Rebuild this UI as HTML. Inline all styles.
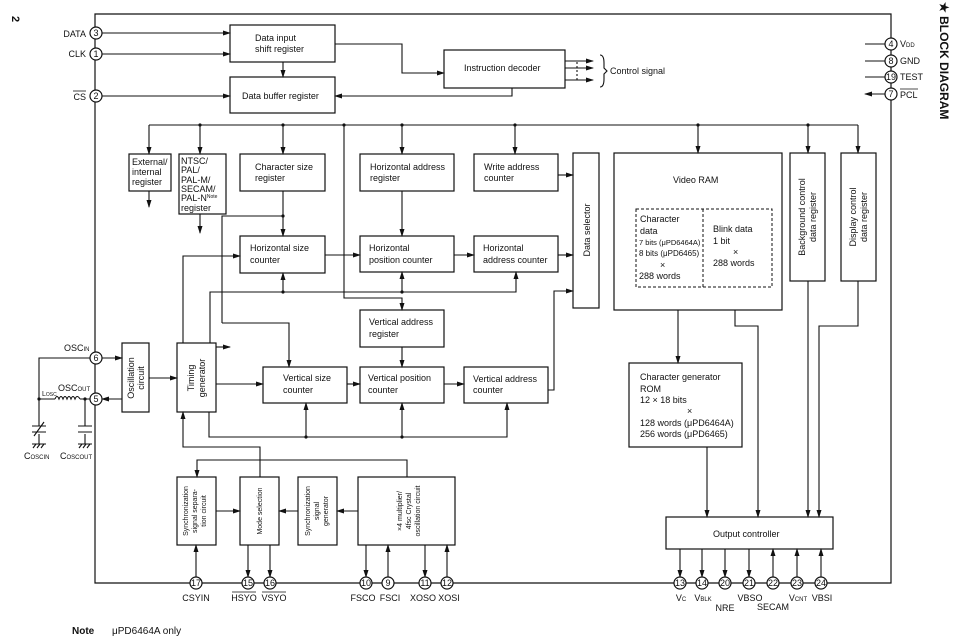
<!DOCTYPE html>
<html><head><style>
html,body{margin:0;padding:0;background:#fff;}
svg{display:block;font-family:"Liberation Sans",sans-serif;}
text{font-size:9px;fill:#111;}
</style></head><body>
<svg width="964" height="638" viewBox="0 0 964 638" xmlns="http://www.w3.org/2000/svg">
<defs>
<marker id="a" markerWidth="8" markerHeight="6" refX="7" refY="3" orient="auto" markerUnits="userSpaceOnUse"><path d="M0,0.5 L8,3 L0,5.5 z" fill="#111"/></marker>
</defs>
<g stroke="#111" stroke-width="1.2" fill="none">
<path d="M95,14 H891 V583 H95 Z"/>
<rect x="230" y="25" width="105" height="37"/>
<rect x="230" y="77" width="105" height="36"/>
<rect x="444" y="50" width="121" height="38"/>
<rect x="129" y="154" width="42" height="37"/>
<rect x="179" y="154" width="47" height="60"/>
<rect x="240" y="154" width="85" height="37"/>
<rect x="360" y="154" width="94" height="37"/>
<rect x="474" y="154" width="84" height="37"/>
<rect x="573" y="153" width="26" height="155"/>
<rect x="614" y="153" width="168" height="157"/>
<rect x="790" y="153" width="35" height="128"/>
<rect x="841" y="153" width="35" height="128"/>
<rect x="240" y="236" width="85" height="37"/>
<rect x="360" y="236" width="94" height="36"/>
<rect x="474" y="236" width="84" height="36"/>
<rect x="360" y="310" width="84" height="37"/>
<rect x="263" y="367" width="84" height="36"/>
<rect x="360" y="367" width="84" height="36"/>
<rect x="464" y="367" width="84" height="36"/>
<rect x="122" y="343" width="27" height="69"/>
<rect x="177" y="343" width="39" height="69"/>
<rect x="177" y="477" width="39" height="68"/>
<rect x="240" y="477" width="39" height="68"/>
<rect x="298" y="477" width="39" height="68"/>
<rect x="358" y="477" width="97" height="68"/>
<rect x="629" y="363" width="113" height="84"/>
<rect x="666" y="517" width="167" height="32"/>
<path d="M636,209 H772 V287 H636 Z M703,209 V287" stroke-dasharray="3,2" stroke-width="1"/>
</g>
<g stroke="#111" stroke-width="1.1" fill="none" marker-end="url(#a)">
<path d="M102,33 H230"/><path d="M102,54 H230"/><path d="M102,96 H230"/>
<path d="M283,62 V77"/>
<path d="M335,44 H402 V73 H444"/>
<path d="M512,88 V96 H335"/>
<path d="M565,61 H593"/><path d="M565,68 H593"/><path d="M565,80 H593"/>
<path d="M149,125 V154"/><path d="M200,125 V154"/><path d="M283,125 V154"/>
<path d="M402,125 V154"/><path d="M515,125 V154"/><path d="M698,125 V153"/>
<path d="M808,125 V153"/><path d="M858,125 V153"/>
<path d="M149,191 V207"/><path d="M200,214 V233"/>
<path d="M344,125 V298 H402 V310"/>
<path d="M283,191 V236"/>
<path d="M222,323 H289 V367"/>
<path d="M402,191 V236"/>
<path d="M325,255 H360"/><path d="M454,255 H474"/><path d="M558,255 H573"/>
<path d="M558,175 H573"/>
<path d="M210,343 V292 H283 V273"/><path d="M283,292 H402 V272"/><path d="M402,292 H516 V272"/>
<path d="M183,343 V256 H240"/>
<path d="M216,347 H230"/>
<path d="M216,384 H263"/><path d="M347,384 H360"/><path d="M444,384 H464"/>
<path d="M402,347 V367"/>
<path d="M548,390 H554 V291 H573"/>
<path d="M209,412 V437 H306 V403"/><path d="M306,437 H402 V403"/><path d="M402,437 H507 V403"/>
<path d="M102,358 H122"/><path d="M122,399 H102"/><path d="M149,378 H177"/>
<path d="M407,477 V460 H197 V477"/>
<path d="M260,477 V447 H183 V412"/>
<path d="M216,511 H240"/><path d="M298,511 H279"/><path d="M358,511 H337"/>
<path d="M196,577 V545"/><path d="M248,545 V577"/><path d="M270,545 V577"/>
<path d="M366,545 V577"/><path d="M388,577 V545"/><path d="M425,545 V577"/><path d="M447,577 V545"/>
<path d="M678,310 V363"/>
<path d="M735,310 V326 H758 V517"/>
<path d="M707,447 V517"/>
<path d="M808,281 V517"/>
<path d="M858,281 V326 H819 V517"/>
<path d="M680,549 V577"/><path d="M702,549 V577"/><path d="M725,549 V577"/><path d="M749,549 V577"/>
<path d="M773,577 V549"/><path d="M797,577 V549"/><path d="M821,577 V549"/>
<path d="M885,94 H865"/>
</g>
<g stroke="#111" stroke-width="1.1" fill="none">
<path d="M149,125 H858"/>
<path d="M222,323 V216 H283"/>
<path d="M577,62 V80" stroke-dasharray="2,2"/>
<path d="M600,55 q4,0 4,8 v5 l3,3 l-3,3 v5 q0,8 -4,8"/>
<path d="M865,44 H885 M865,61 H885 M865,77 H885"/>
<path d="M90,358 H39 V426 M39,434 V444"/>
<path d="M90,399 H80 M55,399 H39"/>
<path d="M55,399 q2,-5 4,0 q2,-5 4,0 q2,-5 4,0 q2,-5 4,0 q2,-5 4,0 q2,-5 5,0"/>
<path d="M85,399 V426 M85,434 V444"/>
<path d="M32,426 H46 M32,432 H46 M34,436 L44,422"/>
<path d="M78,426 H92 M78,432 H92"/>
<path d="M32,444 H46 M33,448 L36,444 M37,448 L40,444 M41,448 L44,444"/>
<path d="M78,444 H92 M79,448 L82,444 M83,448 L86,444 M87,448 L90,444"/>
</g>
<g fill="#111">
<circle cx="283" cy="125" r="1.6"/><circle cx="200" cy="125" r="1.6"/><circle cx="344" cy="125" r="1.6"/><circle cx="402" cy="125" r="1.6"/><circle cx="515" cy="125" r="1.6"/><circle cx="698" cy="125" r="1.6"/><circle cx="808" cy="125" r="1.6"/>
<circle cx="283" cy="216" r="1.6"/><circle cx="283" cy="292" r="1.6"/><circle cx="402" cy="292" r="1.6"/>
<circle cx="306" cy="437" r="1.6"/><circle cx="402" cy="437" r="1.6"/>
<circle cx="39" cy="399" r="1.6"/><circle cx="85" cy="399" r="1.6"/>
</g>
<g stroke="#111" stroke-width="1.2" fill="#fff">
<circle cx="96" cy="33" r="6"/><circle cx="96" cy="54" r="6"/><circle cx="96" cy="96" r="6"/>
<circle cx="96" cy="358" r="6"/><circle cx="96" cy="399" r="6"/>
<circle cx="891" cy="44" r="6"/><circle cx="891" cy="61" r="6"/><circle cx="891" cy="77" r="6"/><circle cx="891" cy="94" r="6"/>
<circle cx="196" cy="583" r="6"/><circle cx="248" cy="583" r="6"/><circle cx="270" cy="583" r="6"/>
<circle cx="366" cy="583" r="6"/><circle cx="388" cy="583" r="6"/><circle cx="425" cy="583" r="6"/><circle cx="447" cy="583" r="6"/>
<circle cx="680" cy="583" r="6"/><circle cx="702" cy="583" r="6"/><circle cx="725" cy="583" r="6"/><circle cx="749" cy="583" r="6"/><circle cx="773" cy="583" r="6"/><circle cx="797" cy="583" r="6"/><circle cx="821" cy="583" r="6"/>
</g>
<g text-anchor="middle" style="font-size:8px">
<text x="96" y="36">3</text><text x="96" y="57">1</text><text x="96" y="99">2</text>
<text x="96" y="361">6</text><text x="96" y="402">5</text>
<text x="891" y="47">4</text><text x="891" y="64">8</text><text x="891" y="80">19</text><text x="891" y="97">7</text>
<text x="196" y="586">17</text><text x="248" y="586">15</text><text x="270" y="586">16</text>
<text x="366" y="586">10</text><text x="388" y="586">9</text><text x="425" y="586">11</text><text x="447" y="586">12</text>
<text x="680" y="586">13</text><text x="702" y="586">14</text><text x="725" y="586">20</text><text x="749" y="586">21</text><text x="773" y="586">22</text><text x="797" y="586">23</text><text x="821" y="586">24</text>
</g>
<g>
<text x="86" y="37" text-anchor="end">DATA</text>
<text x="86" y="57" text-anchor="end">CLK</text>
<text x="86" y="100" text-anchor="end">CS</text><path d="M73,91 H86" stroke="#111" stroke-width="0.8"/>
<text x="255" y="41">Data input</text><text x="255" y="52">shift register</text>
<text x="242" y="99">Data buffer register</text>
<text x="464" y="71">Instruction decoder</text>
<text x="610" y="74">Control signal</text>
<text x="132" y="165">External/</text><text x="132" y="175">internal</text><text x="132" y="185">register</text>
<text x="181" y="164">NTSC/</text><text x="181" y="173">PAL/</text><text x="181" y="183">PAL-M/</text><text x="181" y="192">SECAM/</text><text x="181" y="201">PAL-N<tspan style="font-size:5px" dy="-3">Note</tspan></text><text x="181" y="211">register</text>
<text x="255" y="170">Character size</text><text x="255" y="181">register</text>
<text x="370" y="170">Horizontal address</text><text x="370" y="181">register</text>
<text x="484" y="170">Write address</text><text x="484" y="181">counter</text>
<text x="250" y="251">Horizontal size</text><text x="250" y="263">counter</text>
<text x="369" y="251">Horizontal</text><text x="369" y="263">position counter</text>
<text x="483" y="251">Horizontal</text><text x="483" y="263">address counter</text>
<text x="369" y="325">Vertical address</text><text x="369" y="337">register</text>
<text x="283" y="381">Vertical size</text><text x="283" y="393">counter</text>
<text x="368" y="381">Vertical position</text><text x="368" y="393">counter</text>
<text x="473" y="382">Vertical address</text><text x="473" y="393">counter</text>
<text x="673" y="183">Video RAM</text>
<text x="640" y="222">Character</text><text x="640" y="234">data</text>
<text x="639" y="245" style="font-size:7.5px">7 bits (μPD6464A)</text><text x="639" y="256" style="font-size:8px">8 bits (μPD6465)</text>
<text x="660" y="268">×</text><text x="639" y="279">288 words</text>
<text x="713" y="232">Blink data</text><text x="713" y="244">1 bit</text><text x="733" y="255">×</text><text x="713" y="266">288 words</text>
<text x="640" y="380">Character generator</text><text x="640" y="392">ROM</text><text x="640" y="403">12 × 18 bits</text><text x="687" y="414">×</text>
<text x="640" y="426">128 words (μPD6464A)</text><text x="640" y="437">256 words (μPD6465)</text>
<text x="713" y="537">Output controller</text>
<text x="900" y="47">V<tspan style="font-size:6px">DD</tspan></text><text x="900" y="64">GND</text><text x="900" y="80">TEST</text><text x="900" y="98">PCL</text><path d="M900,89 H918" stroke="#111" stroke-width="0.8"/>
<text x="64" y="351">OSC<tspan style="font-size:6px">IN</tspan></text>
<text x="42" y="396" style="font-size:7px">L<tspan style="font-size:5px">OSC</tspan></text>
<text x="58" y="391">OSC<tspan style="font-size:6px">OUT</tspan></text>
<text x="24" y="459">C<tspan style="font-size:6px">OSCIN</tspan></text>
<text x="60" y="459">C<tspan style="font-size:6px">OSCOUT</tspan></text>
<g text-anchor="middle">
<text x="196" y="601">CSYIN</text><text x="244" y="601">HSYO</text><text x="274" y="601">VSYO</text>
<text x="363" y="601">FSCO</text><text x="390" y="601">FSCI</text><text x="423" y="601">XOSO</text><text x="449" y="601">XOSI</text>
<text x="681" y="601">V<tspan style="font-size:6px">C</tspan></text><text x="703" y="601">V<tspan style="font-size:6px">BLK</tspan></text><text x="725" y="611">NRE</text>
<text x="750" y="601">VBSO</text><text x="773" y="610">SECAM</text><text x="798" y="601">V<tspan style="font-size:6px">CNT</tspan></text><text x="822" y="601">VBSI</text>
</g>
<path d="M232,592 H256 M262,592 H286" stroke="#111" stroke-width="0.8"/>
<text x="72" y="634" style="font-weight:bold;font-size:10px">Note</text>
<text x="112" y="634" style="font-size:10px">μPD6464A only</text>
</g>
<g>
<text transform="translate(590,230) rotate(-90)" text-anchor="middle">Data selector</text>
<text transform="translate(805,217) rotate(-90)" text-anchor="middle">Background control</text>
<text transform="translate(816,217) rotate(-90)" text-anchor="middle">data register</text>
<text transform="translate(856,217) rotate(-90)" text-anchor="middle">Display control</text>
<text transform="translate(867,217) rotate(-90)" text-anchor="middle">data register</text>
<text transform="translate(134,378) rotate(-90)" text-anchor="middle">Oscillation</text>
<text transform="translate(144,378) rotate(-90)" text-anchor="middle">circuit</text>
<text transform="translate(194,378) rotate(-90)" text-anchor="middle">Timing</text>
<text transform="translate(205,378) rotate(-90)" text-anchor="middle">generator</text>
<text transform="translate(188,511) rotate(-90)" text-anchor="middle" style="font-size:7px">Synchronization</text>
<text transform="translate(197,511) rotate(-90)" text-anchor="middle" style="font-size:7px">signal separa-</text>
<text transform="translate(206,511) rotate(-90)" text-anchor="middle" style="font-size:7px">tion circuit</text>
<text transform="translate(262,511) rotate(-90)" text-anchor="middle" style="font-size:7px">Mode selection</text>
<text transform="translate(310,511) rotate(-90)" text-anchor="middle" style="font-size:7px">Synchronization</text>
<text transform="translate(319,511) rotate(-90)" text-anchor="middle" style="font-size:7px">signal</text>
<text transform="translate(328,511) rotate(-90)" text-anchor="middle" style="font-size:7px">generator</text>
<text transform="translate(402,511) rotate(-90)" text-anchor="middle" style="font-size:7px">×4 multiplier/</text>
<text transform="translate(411,511) rotate(-90)" text-anchor="middle" style="font-size:7px">4fsc Crystal</text>
<text transform="translate(420,511) rotate(-90)" text-anchor="middle" style="font-size:7px">oscillation circuit</text>
<text transform="translate(940,2) rotate(90)" style="font-size:12px;font-weight:bold">★ BLOCK DIAGRAM</text>
<text transform="translate(12,16) rotate(90)" style="font-size:11px;font-weight:bold">2</text>
</g>
</svg>
</body></html>
